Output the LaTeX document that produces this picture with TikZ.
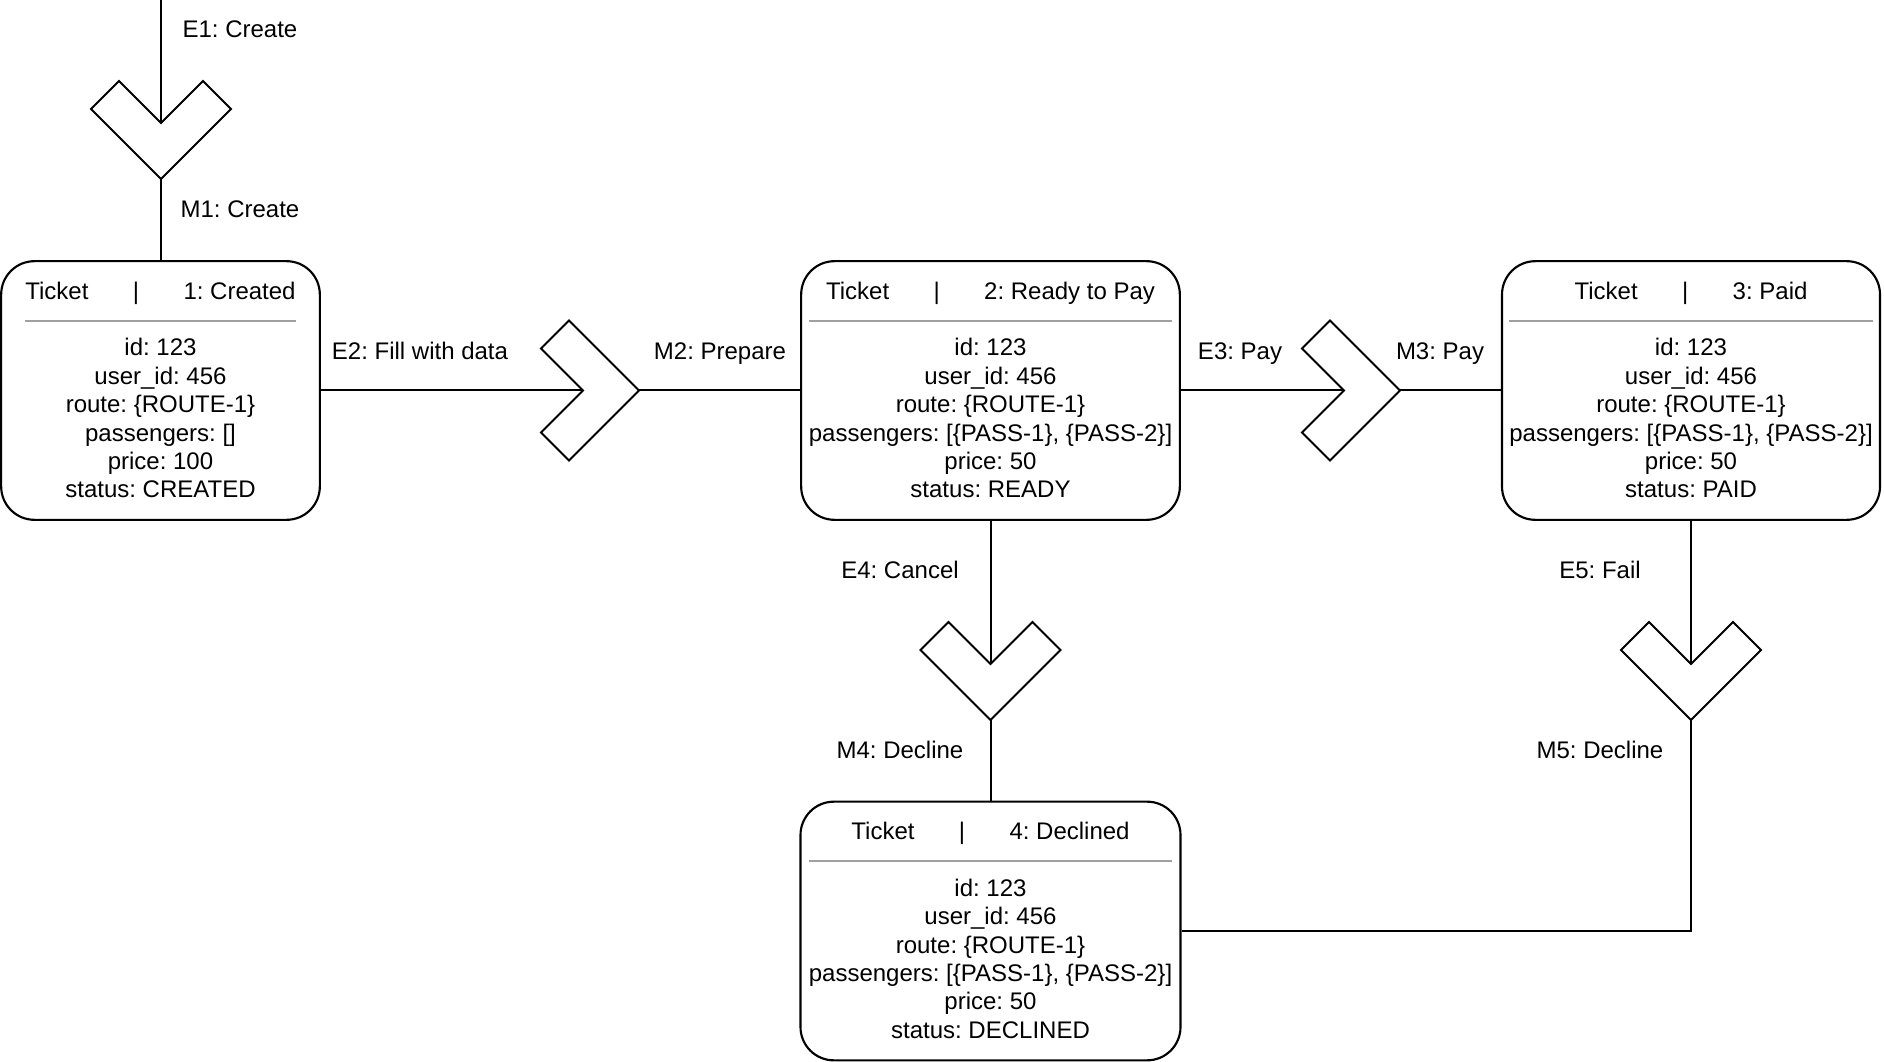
\documentclass[tikz,border=0pt]{standalone}
\usepackage{fontspec}
\setmainfont{Liberation Sans}
\usepackage{colortbl}
\definecolor{rulegray}{RGB}{160,160,160}
\arrayrulecolor{rulegray}
\setlength{\arrayrulewidth}{1.5pt}
\frenchspacing
\tikzset{
  chevron/.pic={
    \draw[chev] (-70,-14) -- (-42,-42) -- (0,0) -- (42,-42) -- (70,-14) -- (0,56) -- cycle;
    \coordinate (-in) at (0,0);
    \coordinate (-out) at (0,56);
  }
}
\begin{document}
\begin{tikzpicture}[x=0.75pt, y=-0.75pt, line width=1.5pt,
    font=\fontsize{18pt}{21.3pt}\selectfont,
    state/.style={draw, line width=1.6pt, rounded corners=25pt, inner sep=0pt, minimum height=194pt},
    chev/.style={draw, fill=white},
    lbl/.style={anchor=base, inner sep=0pt}]
      \useasboundingbox (0,0) rectangle (1884,1062);
      % states
      \node[state, minimum width=239pt] (s1) at (160.5,390.5) {\raisebox{-1.8pt}[\height][\depth]{\begin{tabular}{@{}c@{}}
        Ticket\hspace{1.85em}|\hspace{1.85em}1: Created\\[9pt]
        \hline
        \rule{0pt}{25.5pt}id: 123\\
        user\_id: 456\\
        route: \{ROUTE-1\}\\
        passengers: []\\
        price: 100\\
        status: CREATED
      \end{tabular}}};
      \node[state, minimum width=284pt] (s2) at (990.5,390.5) {\raisebox{-1.8pt}[\height][\depth]{\begin{tabular}{@{}c@{}}
        Ticket\hspace{1.85em}|\hspace{1.85em}2: Ready to Pay\\[9pt]
        \hline
        \rule{0pt}{25.5pt}id: 123\\
        user\_id: 456\\
        route: \{ROUTE-1\}\\
        passengers: [\{PASS-1\}, \{PASS-2\}]\\
        price: 50\\
        status: READY
      \end{tabular}}};
      \node[state, minimum width=283.5pt] (s3) at (1691,390.5) {\raisebox{-1.8pt}[\height][\depth]{\begin{tabular}{@{}c@{}}
        Ticket\hspace{1.85em}|\hspace{1.85em}3: Paid\\[9pt]
        \hline
        \rule{0pt}{25.5pt}id: 123\\
        user\_id: 456\\
        route: \{ROUTE-1\}\\
        passengers: [\{PASS-1\}, \{PASS-2\}]\\
        price: 50\\
        status: PAID
      \end{tabular}}};
      \node[state, minimum width=285pt] (s4) at (990.5,931) {\raisebox{-1.8pt}[\height][\depth]{\begin{tabular}{@{}c@{}}
        Ticket\hspace{1.85em}|\hspace{1.85em}4: Declined\\[9pt]
        \hline
        \rule{0pt}{25.5pt}id: 123\\
        user\_id: 456\\
        route: \{ROUTE-1\}\\
        passengers: [\{PASS-1\}, \{PASS-2\}]\\
        price: 50\\
        status: DECLINED
      \end{tabular}}};
      % transitions
      \pic (c1) at (161,123) {chevron};
      \pic[rotate=90] (c2) at (583,390.5) {chevron};
      \pic[rotate=90] (c3) at (1344,390.5) {chevron};
      \pic (c4) at (990.5,664) {chevron};
      \pic (c5) at (1691,664) {chevron};
      \coordinate (start) at (161,0);
      \draw (start) -- (c1-in);
      \draw (c1-out) -- (c1-out |- s1.north);
      \draw (s1.east) -- (c2-in);
      \draw (c2-out) -- (s2.west);
      \draw (s2.east) -- (c3-in);
      \draw (c3-out) -- (s3.west);
      \draw (s2.south) -- (c4-in);
      \draw (c4-out) -- (s4.north);
      \draw (s3.south) -- (c5-in);
      \draw (c5-out) |- (s4.east);
      % labels
      \node[lbl] (le1) at (240,38) {E1: Create};
      \node[lbl] (lm1) at (240,218) {M1: Create};
      \node[lbl] (le2) at (420,359) {E2: Fill with data};
      \node[lbl] (lm2) at (720,359) {M2: Prepare};
      \node[lbl] (le3) at (1240,359) {E3: Pay};
      \node[lbl] (lm3) at (1440,359) {M3: Pay};
      \node[lbl] (le4) at (900,578) {E4: Cancel};
      \node[lbl] (lm4) at (900,758) {M4: Decline};
      \node[lbl] (le5) at (1600,578) {E5: Fail};
      \node[lbl] (lm5) at (1600,758) {M5: Decline};
    \end{tikzpicture}
\end{document}
